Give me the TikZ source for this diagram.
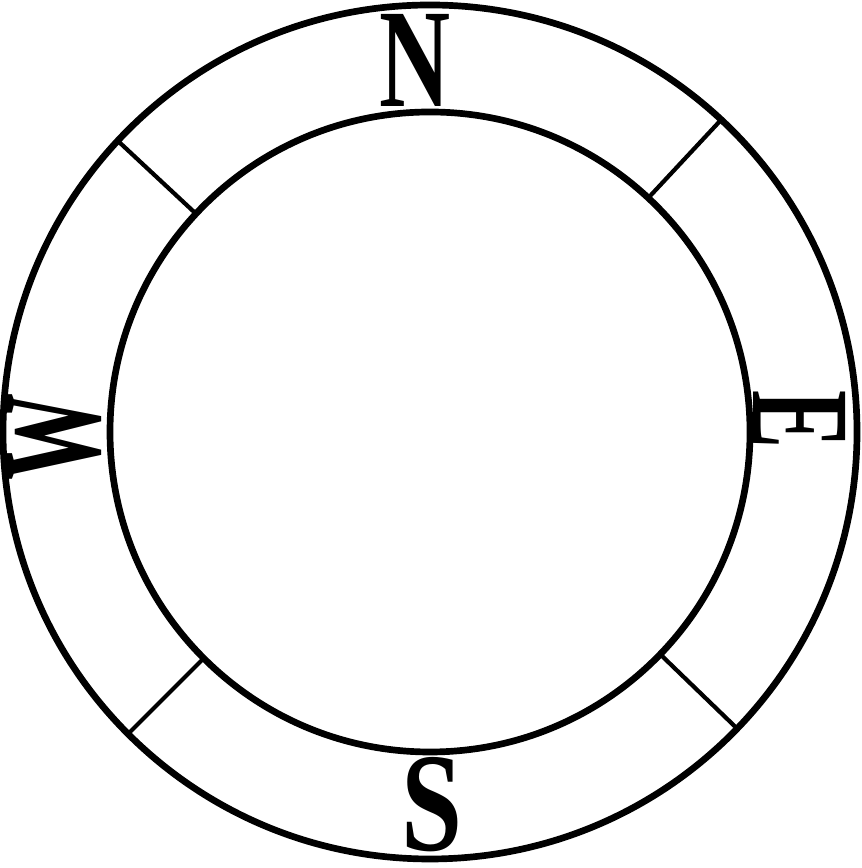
\documentclass[tikz,border=0pt]{standalone}
\usepackage{fontspec}
\setmainfont{Liberation Serif}
\usetikzlibrary{positioning, calc}
\tikzset{
  ring/.style={line width=1.9pt, black},
  spoke/.style={line width=1.2pt, black},
  ltr/.style={font=\fontsize{40}{40}\selectfont\bfseries, inner sep=0pt},
}

\begin{document}
\begin{tikzpicture}[x=0.01cm, y=0.01cm]
  \useasboundingbox (0,0) rectangle (862,868);
  \coordinate (c) at (430,436);
  % the two rings
  \draw[ring] (c) circle (427);
  \draw[ring] (c) circle (320);
  % spokes between the rings
  \foreach \a in {47,137,225,316}{
    \draw[spoke] ($(c)+(\a:320)$) -- ($(c)+(\a:427)$);
  }
  % cardinal letters
  \node[ltr] (north) at (415,808) {\scalebox{0.7}[1]{N}};
  \node[ltr, rotate=-90] (east) at (800,448) {\scalebox{0.62}[1]{E}};
  \node[ltr] (south) at (432,63) {\scalebox{0.78}[1]{S}};
  \node[ltr, rotate=90] (west) at (55,431) {\scalebox{0.62}[1]{W}};
\end{tikzpicture}
\end{document}
